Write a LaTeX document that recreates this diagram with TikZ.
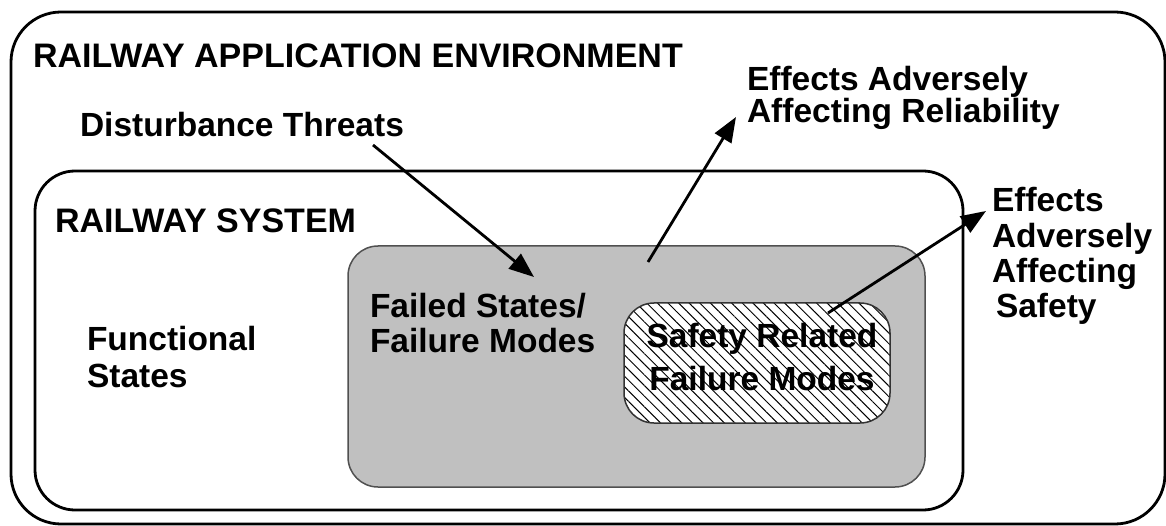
\documentclass[tikz,border=0pt]{standalone}
\usepackage{fontspec}
\setmainfont{Liberation Sans}
\usetikzlibrary{arrows.meta,patterns.meta}
\definecolor{failgray}{HTML}{C0C0C0}
\definecolor{edgegray}{HTML}{505050}
\begin{document}
\begin{tikzpicture}[x=1pt,y=-1pt,
  frame/.style={draw=black,line width=2.8pt,rounded corners=#1,inner sep=0pt,outer sep=0pt},
  lbl/.style={inner sep=0pt,outer sep=0pt,align=left,font=\fontsize{33.5}{#1}\selectfont\bfseries},
  lbl/.default=35,
  caplbl/.style={inner sep=0pt,outer sep=0pt,font=\fontsize{34}{36}\selectfont\bfseries},
  arr/.style={line width=2.8pt,-{Triangle[length=25pt,width=19pt]}},
]
\useasboundingbox (0,0) rectangle (1166,526);
% boxes
\node[frame=50pt,minimum width=1154pt,minimum height=512pt] (env) at (588,268) {};
\node[frame=40pt,minimum width=928pt,minimum height=339pt] (sys) at (499,340.5) {};
\node[draw=edgegray,line width=1.5pt,fill=failgray,rounded corners=30pt,inner sep=0pt,
      minimum width=577pt,minimum height=241pt] (fail) at (636.5,366.5) {};
\node[draw=black!80,line width=1.5pt,rounded corners=30pt,inner sep=0pt,
      preaction={fill=white},
      pattern={Lines[angle=-45,distance=7.5pt,line width=1pt]},
      minimum width=266pt,minimum height=120pt] (safe) at (757,363) {};
% labels (base anchor = baseline of the last line)
\node[caplbl,anchor=base west] (envlbl) at (33,68) {RAILWAY APPLICATION ENVIRONMENT};
\node[lbl,anchor=base west] (dist) at (80,137) {Disturbance Threats};
\node[caplbl,anchor=base west] (syslbl) at (55,233) {RAILWAY SYSTEM};
\node[lbl=37,anchor=base west] (func) at (87,387) {Functional\\States};
\node[lbl=35,anchor=base west] (faillbl) at (370,352) {Failed States/\\Failure Modes};
\node[lbl=43,anchor=base,align=center] (safelbl) at (762,390) {Safety Related\\Failure Modes};
\node[lbl=32,anchor=base west] (rel) at (747,123) {Effects Adversely\\Affecting Reliability};
\node[lbl=35,anchor=base west] (saf) at (992,317) {Effects\\Adversely\\Affecting\\\hspace*{4pt}Safety};
% arrow endpoints
\coordinate (distS) at (373,145);
\coordinate (distE) at (534,277);
\coordinate (relS) at (648,262);
\coordinate (relE) at (736,117);
\coordinate (safS) at (828,313);
\coordinate (safE) at (986,211);
\draw[arr] (distS) -- (distE);
\draw[arr] (relS) -- (relE);
\draw[arr] (safS) -- (safE);
\end{tikzpicture}
\end{document}
